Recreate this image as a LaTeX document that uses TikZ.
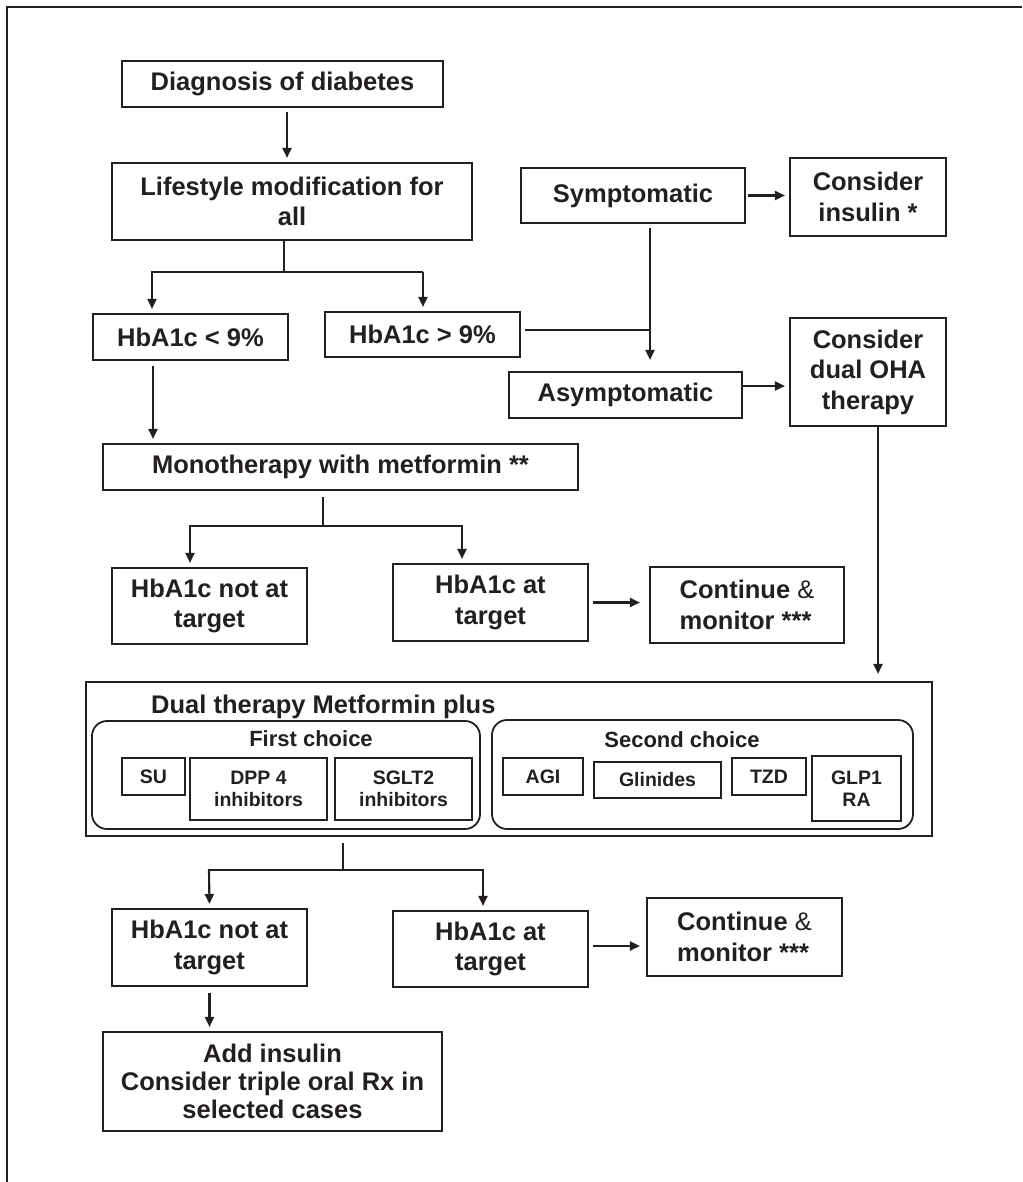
\documentclass[tikz,border=0pt]{standalone}
\usepackage{fontspec}
\setmainfont{Liberation Sans}
\usetikzlibrary{arrows.meta,calc}
\definecolor{ink}{RGB}{35,31,32}
\begin{document}
\begin{tikzpicture}[x=1pt,y=-1pt,
  box/.style={draw=ink, line width=2.1pt, text=ink, align=center, inner sep=0pt, font=\bfseries\fontsize{25.5}{30.5}\selectfont},
  sbox/.style={draw=ink, line width=1.8pt, text=ink, align=center, inner sep=0pt, font=\bfseries\fontsize{19.5}{22.5}\selectfont},
  grp/.style={draw=ink, line width=1.8pt, rounded corners=15pt, inner sep=0pt},
  lbl/.style={text=ink, inner sep=0pt, font=\bfseries\fontsize{22}{26}\selectfont},
  conn/.style={draw=ink, line width=2.1pt},
  arr/.style={conn, -{Triangle[length=10pt,width=9pt]}, shorten >=4pt},
]
\useasboundingbox (0,0) rectangle (1022,1182);
% outer frame (only top and left edges visible)
\draw[ink, line width=2.4pt] (7,1182) -- (7,7) -- (1022,7);

% top part
\node[box, minimum width=321pt, minimum height=46pt] (diag) at (282.5,84) {Diagnosis of diabetes};
\node[box, minimum width=360pt, minimum height=77pt] (life) at (292,201.5) {Lifestyle modification for\\all};
\node[box, minimum width=195pt, minimum height=46pt] (lt9) at (190.5,337) {HbA1c < 9\%};
\node[box, minimum width=195pt, minimum height=45pt] (gt9) at (422.5,334.5) {HbA1c > 9\%};
\node[box, minimum width=224pt, minimum height=55pt] (sym) at (633,195.5) {Symptomatic};
\node[box, minimum width=156pt, minimum height=78pt] (ins) at (868,197) {Consider\\insulin *};
\node[box, minimum width=233pt, minimum height=46pt] (asym) at (625.5,395) {Asymptomatic};
\node[box, minimum width=156pt, minimum height=108pt] (dual) at (868,372) {Consider\\dual OHA\\therapy};

% monotherapy
\node[box, minimum width=475pt, minimum height=46pt] (mono) at (340.5,467) {Monotherapy with metformin **};
\node[box, minimum width=195pt, minimum height=76pt] (nat1) at (209.5,606) {HbA1c not at\\target};
\node[box, minimum width=195pt, minimum height=77pt] (at1) at (490.5,602.5) {HbA1c at\\target};
\node[box, minimum width=194pt, minimum height=76pt, align=left] (cm1) at (747,605) {Continue {\mdseries\&}\\monitor ***};

% dual therapy block
\node[draw=ink, line width=2.1pt, inner sep=0pt, minimum width=846pt, minimum height=154pt] (big) at (509,759) {};
\node[lbl, anchor=base west, font=\bfseries\fontsize{25.5}{30}\selectfont] (dtm) at (151,713) {Dual therapy Metformin plus};
\node[grp, minimum width=388pt, minimum height=108pt] (first) at (286,775) {};
\node[grp, minimum width=421pt, minimum height=109pt] (second) at (702.5,774.5) {};
\node[lbl, anchor=base] (fc) at (311,746) {First choice};
\node[lbl, anchor=base] (sc) at (682,747) {Second choice};
\node[sbox, minimum width=63pt, minimum height=37pt] (su) at (153.5,776.5) {SU};
\node[sbox, minimum width=137pt, minimum height=62pt] (dpp) at (258.5,789) {DPP 4\\inhibitors};
\node[sbox, minimum width=137pt, minimum height=62pt] (sglt) at (403.5,789) {SGLT2\\inhibitors};
\node[sbox, minimum width=80pt, minimum height=37pt] (agi) at (543,776.5) {AGI};
\node[sbox, minimum width=127pt, minimum height=36pt] (glin) at (657.5,780) {Glinides};
\node[sbox, minimum width=74pt, minimum height=37pt] (tzd) at (769,776.5) {TZD};
\node[sbox, minimum width=89pt, minimum height=65pt] (glp) at (856.5,788.5) {GLP1\\RA};

% bottom part
\node[box, minimum width=195pt, minimum height=77pt] (nat2) at (209.5,947.5) {HbA1c not at\\target};
\node[box, minimum width=195pt, minimum height=76pt] (at2) at (490.5,949) {HbA1c at\\target};
\node[box, minimum width=195pt, minimum height=78pt, align=left] (cm2) at (744.5,937) {Continue {\mdseries\&}\\monitor ***};
\node[box, minimum width=339pt, minimum height=99pt, font=\bfseries\fontsize{25.5}{28}\selectfont] (add) at (272.5,1081.5) {Add insulin\\Consider triple oral Rx in\\selected cases};

% connectors
\draw[arr, shorten <=4pt] ([xshift=4.5pt]diag.south) -- ([xshift=4.5pt]diag.south |- life.north);

\coordinate (j1) at (284,272);
\draw[conn] (life.south -| j1) -- (j1);
\draw[conn] ([xshift=-133pt]j1) -- ([xshift=139pt]j1);
\draw[arr] ([xshift=-132pt]j1) -- ([xshift=-38.5pt]lt9.north);
\draw[arr] ([xshift=139pt]j1) -- (gt9.north -| 423,0);

\coordinate (sx) at (650,330);
\draw[conn, shorten <=4pt] (gt9.east |- sx) -- (sx);
\draw[arr, shorten <=4pt, shorten >=11pt] (sym.south -| sx) -- (asym.north -| sx);
\draw[arr, shorten <=2pt] (sym.east) -- (ins.west |- sym.east);
\coordinate (ae) at ([yshift=9pt]asym.east);
\draw[arr] (ae) -- (dual.west |- ae);

\draw[arr, shorten >=7pt] ([xshift=10pt]dual.south) -- ([xshift=10pt]dual.south |- big.north);

\draw[arr, shorten <=5pt] ([xshift=-37.5pt]lt9.south) -- ([xshift=-37.5pt]lt9.south |- mono.north);

\coordinate (j2) at (323,526);
\draw[conn, shorten <=6pt] (mono.south -| j2) -- (j2);
\draw[conn] ([xshift=-134pt]j2) -- ([xshift=140pt]j2);
\draw[arr] ([xshift=-133pt]j2) -- ([xshift=-19.5pt]nat1.north);
\draw[arr] ([xshift=139pt]j2) -- ([xshift=-28.5pt]at1.north);
\draw[arr, shorten <=4pt, shorten >=9pt] (at1.east) -- (cm1.west |- at1.east);

\coordinate (j3) at (343,870);
\draw[conn, shorten <=6pt] (big.south -| j3) -- (j3);
\draw[conn] ([xshift=-135pt]j3) -- ([xshift=141pt]j3);
\draw[arr] ([xshift=-134pt]j3) -- (nat2.north);
\draw[arr] ([xshift=140pt]j3) -- ([xshift=-7.5pt]at2.north);
\coordinate (be) at ([yshift=3pt]at2.east);
\draw[arr, shorten <=4pt, shorten >=6pt] (be) -- (cm2.west |- be);
\draw[arr, shorten <=6pt] (nat2.south) -- (nat2.south |- add.north);
\end{tikzpicture}
\end{document}
